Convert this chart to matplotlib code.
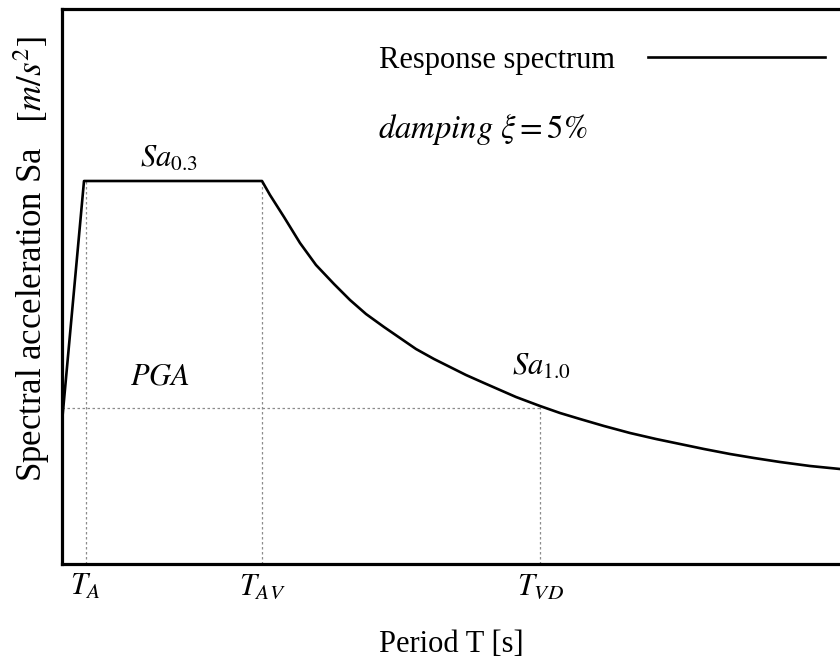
import matplotlib
matplotlib.use("Agg")
import matplotlib.pyplot as plt

plt.rcParams['font.family'] = ['Liberation Serif', 'DejaVu Serif']
plt.rcParams['mathtext.fontset'] = 'stix'

# design spectrum (arbitrary units, no scale given)
period = [0.0, 0.11, 1.00, 1.02, 1.04, 1.11, 1.19, 1.27, 1.36, 1.44, 1.52,
          1.61, 1.69, 1.77, 1.86, 1.94, 2.02, 2.11, 2.19, 2.27, 2.39, 2.49,
          2.59, 2.71, 2.84, 2.97, 3.09, 3.21, 3.34, 3.46, 3.59, 3.74, 3.89]
sa = [1.42, 3.83, 3.83, 3.76, 3.69, 3.47, 3.21, 2.99, 2.80, 2.64, 2.50,
      2.37, 2.26, 2.15, 2.05, 1.97, 1.89, 1.81, 1.74, 1.67, 1.58, 1.51,
      1.45, 1.38, 1.31, 1.25, 1.20, 1.15, 1.10, 1.06, 1.02, 0.98, 0.95]

corner_periods = [0.12, 1.00, 2.39]
corner_labels = [r'$T_A$', r'$T_{AV}$', r'$T_{VD}$']
corner_sa = [3.83, 3.83, 1.57]
pga = 1.56

fig = plt.figure(figsize=(8.4, 6.66), dpi=100)
ax = fig.add_axes([62 / 840, 102 / 666, 778 / 840, 555 / 666])

ax.plot(period, sa, color='black', lw=1.9, label='Response spectrum',
        solid_joinstyle='round', zorder=3)

# guide lines
ax.vlines(corner_periods, 0, corner_sa, colors='#8c8c8c', linestyles=(0, (2, 2)), lw=0.9)
ax.hlines(pga, 0, corner_periods[2], colors='#8c8c8c', linestyles=(0, (2, 2)), lw=0.9)

ax.set_xlim(0, 3.89)
ax.set_ylim(0, 5.55)
ax.set_yticks([])
ax.set_xticks(corner_periods)
ax.set_xticklabels(corner_labels, fontsize=22)
ax.tick_params(axis='x', length=0, pad=6)

for side in ('left', 'top', 'bottom'):
    ax.spines[side].set_linewidth(2.3)
ax.spines['right'].set_visible(False)

ax.text(0.39, 3.97, r'$Sa_{0.3}$', fontsize=22, va='baseline')
ax.text(0.34, 1.87, r'$PGA$', fontsize=22, va='center')
ax.text(2.25, 1.89, r'$Sa_{1.0}$', fontsize=22, va='baseline')
ax.text(1.58, 4.26, r'$damping\ \xi = 5\%$', fontsize=23.5, va='baseline')

ax.legend(loc='center right', bbox_to_anchor=(0.997, 0.908), frameon=False,
          markerfirst=False, handlelength=5.8, handletextpad=1.1, fontsize=22,
          borderaxespad=0)

fig.text(32 / 840, 1 - 259 / 666, r'Spectral acceleration Sa   $[m/s^2]$',
         rotation=90, ha='center', va='center', fontsize=25)
fig.text(451 / 840, 1 - 645 / 666, 'Period T [s]', ha='center', va='center',
         fontsize=22)

fig.savefig('out.png', dpi=100)
